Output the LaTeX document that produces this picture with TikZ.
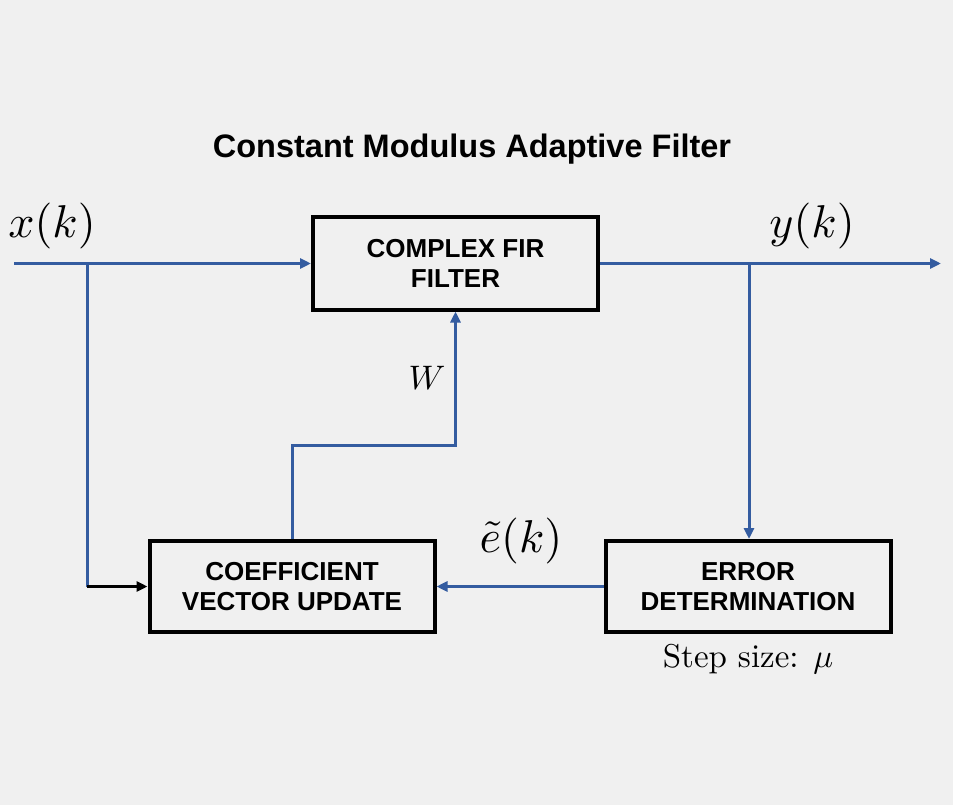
\documentclass[tikz,border=0pt]{standalone}
\usepackage{fontspec}
\newfontfamily\hsans{Liberation Sans}
\usetikzlibrary{arrows.meta}
\definecolor{bg}{RGB}{240,240,240}
\definecolor{sigblue}{RGB}{52,92,160}
\begin{document}
\begin{tikzpicture}[x=1pt,y=-1pt,
  blockbox/.style={draw=black,line width=4pt,minimum width=285pt,minimum height=92pt,
    align=center,font=\hsans\bfseries\fontsize{26}{30}\selectfont,inner sep=0pt},
  sig/.style={draw=sigblue,line width=3pt},
  tip/.style={-{Triangle[length=11pt,width=10pt]}},
  mathlbl/.style={inner sep=0pt,font=\normalsize,scale=4.6}
]
\fill[bg] (0,0) rectangle (953,805);
\useasboundingbox (0,0) rectangle (953,805);

\node[inner sep=0pt,font=\hsans\bfseries\fontsize{32.5}{36}\selectfont] (title) at (472,149) {Constant Modulus Adaptive Filter};

\node[blockbox] (fir) at (455.5,263.5) {COMPLEX FIR\\FILTER};
\node[blockbox,minimum height=91pt] (coef) at (292,586.5) {COEFFICIENT\\VECTOR UPDATE};
\node[blockbox,minimum height=91pt] (err) at (748,586.5) {ERROR\\DETERMINATION};

\coordinate (in) at (14,263.5);
\coordinate (j1) at (87,263.5);
\coordinate (c1) at (j1 |- coef.west);
\coordinate (out) at (941,263.5);
\coordinate (j2) at (749,263.5);
\coordinate (w1) at (292,445);
\coordinate (w2) at (455.5,445);

\draw[sig,tip] (in) -- (fir.west);
\draw[sig] (j1) -- (c1);
\draw[line width=3pt,draw=black,tip] (c1) -- (coef.west);
\draw[sig,tip] (fir.east) -- (out);
\draw[sig,tip] (j2) -- (j2 |- err.north);
\draw[sig,tip] (err.west) -- (coef.east);
\draw[sig,tip] (coef.north) -- (w1) -- (w2) -- (fir.south);

\node[mathlbl] (xk) at (52,226) {$x(k)$};
\node[mathlbl] (yk) at (812,226) {$y(k)$};
\node[mathlbl] (ek) at (521,541) {$\tilde{e}(k)$};
\node[inner sep=0pt,font=\normalsize,scale=3.4] (wl) at (427,378) {$W$};
\node[inner sep=0pt,font=\normalsize,scale=3.3] (step) at (748,659) {Step size: $\mu$};
\end{tikzpicture}
\end{document}
